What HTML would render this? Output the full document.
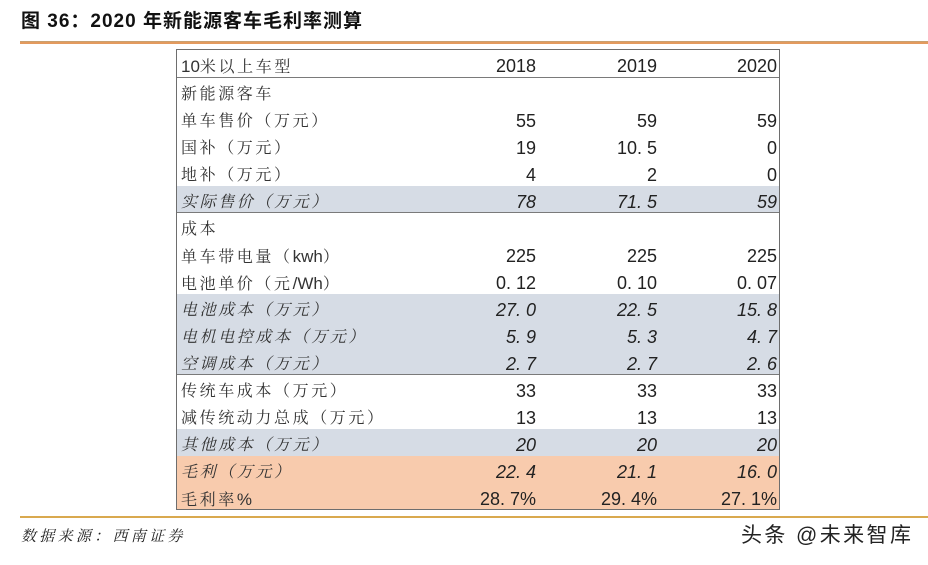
<!DOCTYPE html>
<html><head><meta charset="utf-8">
<style>
html,body{margin:0;padding:0;background:#fff;}
body{width:928px;height:565px;position:relative;overflow:hidden;font-family:"Liberation Sans","Noto Sans CJK SC",sans-serif;}
.title{position:absolute;left:21px;top:9px;font-size:19px;font-weight:bold;color:#111;letter-spacing:1px;white-space:nowrap;line-height:26px;}
.topline{position:absolute;left:20px;top:41px;width:908px;height:3px;background:#e39a5e;border-top:1px solid #c9a070;box-sizing:border-box;}
.botline{position:absolute;left:20px;top:516px;width:908px;height:2px;background:#d9a94f;}
.table{position:absolute;left:176px;top:49px;width:604px;height:461px;border:1px solid #6e6e6e;box-sizing:border-box;}
.row{position:absolute;left:0;width:602px;height:27px;}
.gray{background:#d6dce5;}
.org{background:#f8cbad;}
.c{position:absolute;top:3px;line-height:27px;height:27px;white-space:nowrap;color:#222;}
.lab{left:4px;font-family:"Liberation Sans","Noto Serif CJK SC",serif;font-size:16px;letter-spacing:2.6px;color:#333;}
.lat{letter-spacing:0;font-size:17px;}
.n{font-size:18px;text-align:right;width:100px;}
.v1{left:259px;}
.v2{left:380px;}
.v3{left:500px;}
.it{font-style:italic;}
.hl{position:absolute;left:0;width:602px;height:1px;background:#7a7a7a;}
.src{position:absolute;left:21px;top:524px;font-size:15px;font-style:italic;letter-spacing:3.3px;color:#222;font-family:"Liberation Serif","Noto Serif CJK SC",serif;line-height:26px;}
.wm{position:absolute;left:741px;top:521px;font-size:21px;color:#222;letter-spacing:2.4px;line-height:30px;text-shadow:0 0 2px #fff;}
</style></head><body>
<div class="title">图 36：2020 年新能源客车毛利率测算</div>
<div class="topline"></div>

<div class="table">
  <div class="row" style="top:0"><div class="c lab"><span class="lat">10</span>米以上车型</div><div class="c n v1">2018</div><div class="c n v2">2019</div><div class="c n v3">2020</div></div>
  <div class="hl" style="top:27px"></div>
  <div class="row" style="top:28px"><div class="c lab">新能源客车</div></div>
  <div class="row" style="top:55px"><div class="c lab">单车售价（万元）</div><div class="c n v1">55</div><div class="c n v2">59</div><div class="c n v3">59</div></div>
  <div class="row" style="top:82px"><div class="c lab">国补（万元）</div><div class="c n v1">19</div><div class="c n v2">10. 5</div><div class="c n v3">0</div></div>
  <div class="row" style="top:109px"><div class="c lab">地补（万元）</div><div class="c n v1">4</div><div class="c n v2">2</div><div class="c n v3">0</div></div>
  <div class="row gray" style="top:136px;height:26px"><div class="c lab it">实际售价（万元）</div><div class="c n v1 it">78</div><div class="c n v2 it">71. 5</div><div class="c n v3 it">59</div></div>
  <div class="hl" style="top:162px"></div>
  <div class="row" style="top:163px"><div class="c lab">成本</div></div>
  <div class="row" style="top:190px"><div class="c lab">单车带电量（<span class="lat">kwh</span>）</div><div class="c n v1">225</div><div class="c n v2">225</div><div class="c n v3">225</div></div>
  <div class="row" style="top:217px"><div class="c lab">电池单价（元<span class="lat">/Wh</span>）</div><div class="c n v1">0. 12</div><div class="c n v2">0. 10</div><div class="c n v3">0. 07</div></div>
  <div class="row gray" style="top:244px"><div class="c lab it">电池成本（万元）</div><div class="c n v1 it">27. 0</div><div class="c n v2 it">22. 5</div><div class="c n v3 it">15. 8</div></div>
  <div class="row gray" style="top:271px"><div class="c lab it">电机电控成本（万元）</div><div class="c n v1 it">5. 9</div><div class="c n v2 it">5. 3</div><div class="c n v3 it">4. 7</div></div>
  <div class="row gray" style="top:298px;height:26px"><div class="c lab it">空调成本（万元）</div><div class="c n v1 it">2. 7</div><div class="c n v2 it">2. 7</div><div class="c n v3 it">2. 6</div></div>
  <div class="hl" style="top:324px"></div>
  <div class="row" style="top:325px"><div class="c lab">传统车成本（万元）</div><div class="c n v1">33</div><div class="c n v2">33</div><div class="c n v3">33</div></div>
  <div class="row" style="top:352px"><div class="c lab">减传统动力总成（万元）</div><div class="c n v1">13</div><div class="c n v2">13</div><div class="c n v3">13</div></div>
  <div class="row gray" style="top:379px"><div class="c lab it">其他成本（万元）</div><div class="c n v1 it">20</div><div class="c n v2 it">20</div><div class="c n v3 it">20</div></div>
  <div class="row org" style="top:406px"><div class="c lab it">毛利（万元）</div><div class="c n v1 it">22. 4</div><div class="c n v2 it">21. 1</div><div class="c n v3 it">16. 0</div></div>
  <div class="row org" style="top:433px;height:26px"><div class="c lab">毛利率<span class="lat">%</span></div><div class="c n v1">28. 7%</div><div class="c n v2">29. 4%</div><div class="c n v3">27. 1%</div></div>
</div>

<div class="botline"></div>
<div class="src">数据来源：西南证券</div>
<div class="wm">头条 @未来智库</div>
</body></html>
